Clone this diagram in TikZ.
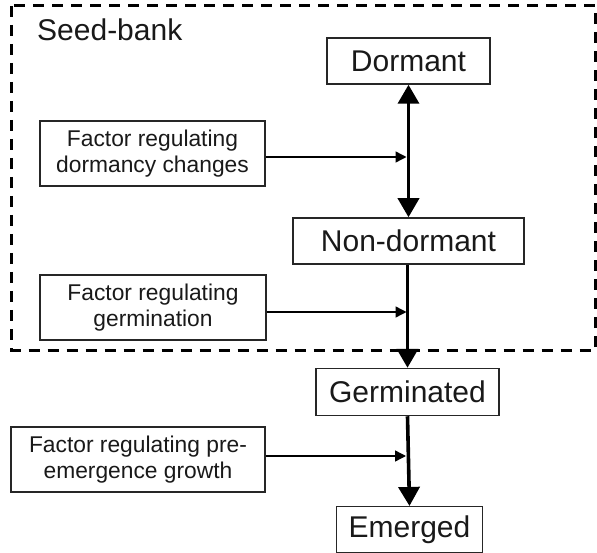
\documentclass[tikz,border=0pt]{standalone}
\usepackage{fontspec}
\setmainfont{Liberation Sans}
\usetikzlibrary{arrows.meta}
\begin{document}
\begin{tikzpicture}[x=1pt,y=-1pt,
  stage/.style={draw=black!85,line width=1.5pt,inner sep=0pt,
    font=\fontsize{30}{34}\selectfont,text=black!90},
  factor/.style={draw=black!85,line width=1.5pt,inner sep=0pt,align=center,
    font=\fontsize{22.8}{26.5}\selectfont,text=black!90},
  flow/.style={line width=3.6pt,-{Triangle[length=19pt,width=21pt]}},
  flowboth/.style={line width=3.6pt,{Triangle[length=19pt,width=21pt]}-{Triangle[length=19pt,width=21pt]}},
  influence/.style={line width=1.4pt,-{Triangle[length=11pt,width=11pt]}},
  bankline/.style={line width=3pt,dash pattern=on 11pt off 8pt}]
\useasboundingbox (0,0) rectangle (597,553);

% seed-bank region
\draw[bankline] (11.5,6) rectangle (595.5,350);
\node[anchor=base west,inner sep=0pt,font=\fontsize{30}{34}\selectfont,text=black!90] (bank) at (37,41) {Seed-bank};

% stages
\node[stage,minimum width=163pt,minimum height=46pt] (dorm) at (408.5,61) {Dormant};
\node[stage,minimum width=231pt,minimum height=46pt] (nond) at (408.5,241) {Non-dormant};
\node[stage,minimum width=183pt,minimum height=47pt] (germ) at (407.5,392) {Germinated};
\node[stage,minimum width=146pt,minimum height=46pt] (emer) at (409.5,529.7) {Emerged};

% regulating factors
\node[factor,minimum width=225pt,minimum height=65pt] (fdorm) at (152.5,153.5) {Factor regulating\\dormancy changes};
\node[factor,minimum width=226pt,minimum height=65pt] (fgerm) at (153,307.5) {Factor regulating\\germination};
\node[factor,minimum width=254pt,minimum height=65pt] (fgrow) at (138,459.5) {Factor regulating pre-\\emergence growth};

% transitions
\draw[flowboth] (dorm.south) -- (nond.north);
\draw[flow] (nond.south -| germ.north) -- (germ.north);
\draw[flow] (germ.south) -- (emer.north);

% points where the factors act
\coordinate (jdorm) at (406.5,157);
\coordinate (jgerm) at (406.5,312);
\coordinate (jgrow) at (406,456);
\draw[influence] (fdorm.east |- jdorm) -- (jdorm);
\draw[influence] (fgerm.east |- jgerm) -- (jgerm);
\draw[influence] (fgrow.east |- jgrow) -- (jgrow);
\end{tikzpicture}
\end{document}
